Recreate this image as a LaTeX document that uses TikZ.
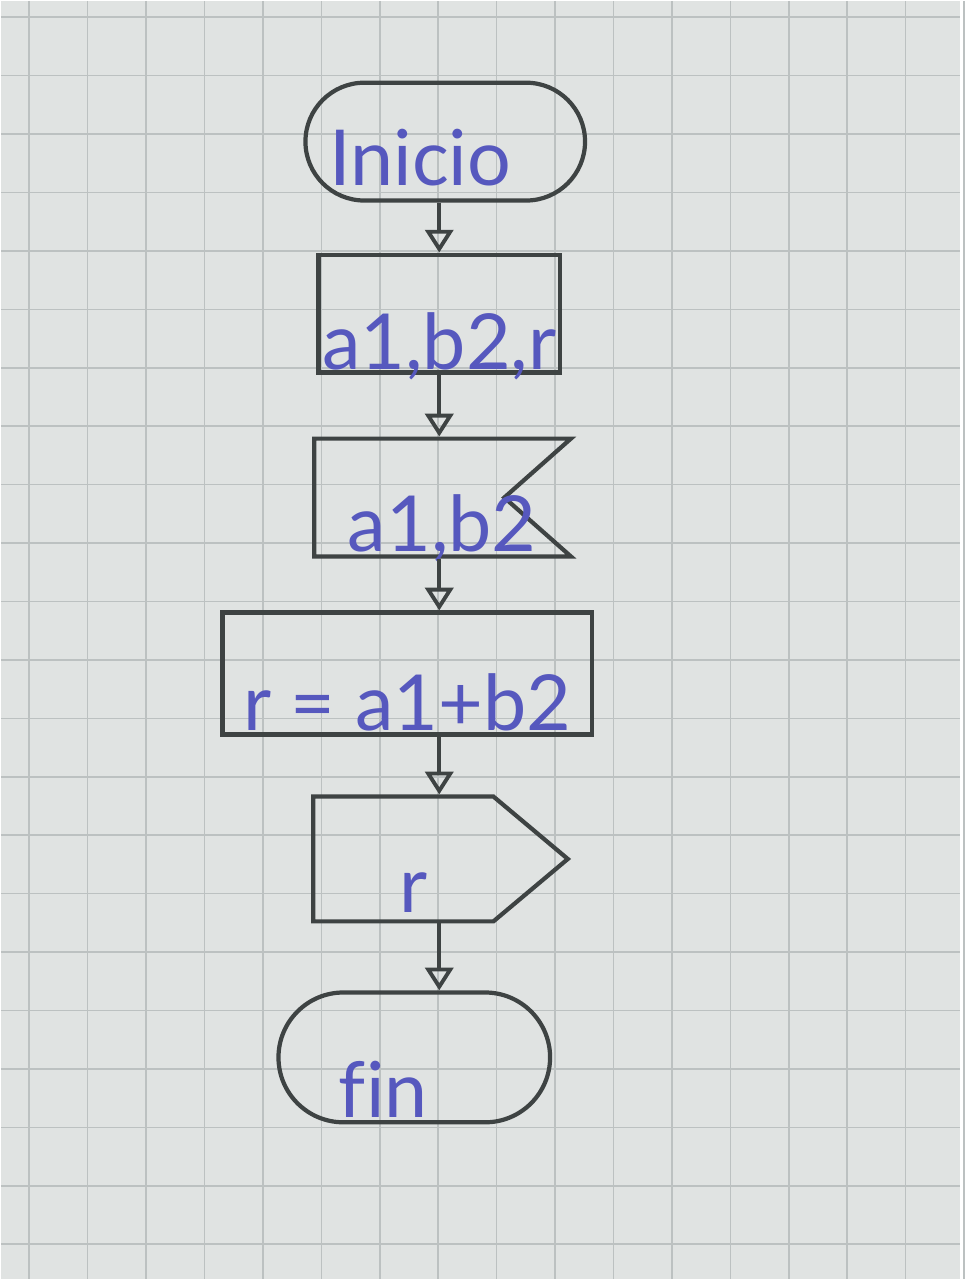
\documentclass[tikz,border=0pt]{standalone}
\usepackage{fontspec}
\setmainfont[Ligatures=NoCommon]{Lato}
\usetikzlibrary{positioning,shapes.misc,shapes.symbols,arrows.meta}
\definecolor{paper}{RGB}{224,227,226}
\definecolor{gridgray}{RGB}{188,193,193}
\definecolor{pencil}{RGB}{62,67,67}
\definecolor{ink}{RGB}{86,88,190}
\begin{document}
\begin{tikzpicture}[x=0.02cm, y=-0.02cm,
	node distance={1.1cm},
	box/.style = {draw=pencil, line width=2.4pt, inner sep=0pt, text depth=0pt,
		text=ink, font=\fontsize{44}{44}\selectfont},
	term/.style = {box, rounded rectangle},
	proc/.style = {box, rectangle},
	inbox/.style = {box, signal, signal to=nowhere, signal from=east, signal pointer angle=83},
	outbox/.style = {box, signal, signal to=east, signal pointer angle=80},
	arrow/.style = {draw=pencil, line width=2.2pt, -{Triangle[open, length=13pt, width=16pt]}},
	gridline/.style = {draw=gridgray, line width=0.9pt}]
		\fill[paper] (0,0) rectangle (960,1280);
		\foreach \gx in {0,...,16} \draw[gridline] ({28.5+58.5*\gx},0) -- ++(0,1280);
		\foreach \gy in {0,...,21} \draw[gridline] (0,{16.5+58.5*\gy}) -- ++(960,0);
		\useasboundingbox (0,0) rectangle (960,1280);

		\node[term, minimum width=5.6cm, minimum height=2.36cm, text height=1.76cm] (inicio) at (445,141) {Inicio\kern1cm};
		\node[proc, minimum width=4.84cm, minimum height=2.36cm, text height=2.24cm] (decl) [below=1.0cm of inicio, xshift=-0.12cm] {a1,b2,r};
		\node[inbox, minimum width=5.14cm, minimum height=2.36cm, text height=2.16cm] (entrada) [below=1.24cm of decl, xshift=-0.6cm] {\kern0.66cm a1,b2\kern-0.66cm};
		\node[proc, minimum width=7.4cm, minimum height=2.44cm, text height=2.28cm] (proceso) [below=1.04cm of entrada.south -| decl, xshift=-0.64cm] {r = a1+b2};
		\node[outbox, minimum width=5.1cm, minimum height=2.5cm, text height=2.16cm] (salida) [below=1.16cm of proceso, xshift=-0.08cm] {\kern0.2cm r\kern-0.2cm};
		\node[term, minimum width=5.44cm, minimum height=2.6cm, text height=2.4cm] (fin) [below=1.34cm of salida.south -| decl, xshift=-0.5cm] {fin\kern1.24cm};

		\draw[arrow] (inicio.south -| decl.north) to (decl.north);
		\draw[arrow] (decl.south) to (decl.south |- entrada.north);
		\draw[arrow] (entrada.south -| decl) to (proceso.north -| decl);
		\draw[arrow] (proceso.south -| decl) to (salida.north -| decl);
		\draw[arrow] (salida.south -| decl) to (fin.north -| decl);

	\end{tikzpicture}
\end{document}
